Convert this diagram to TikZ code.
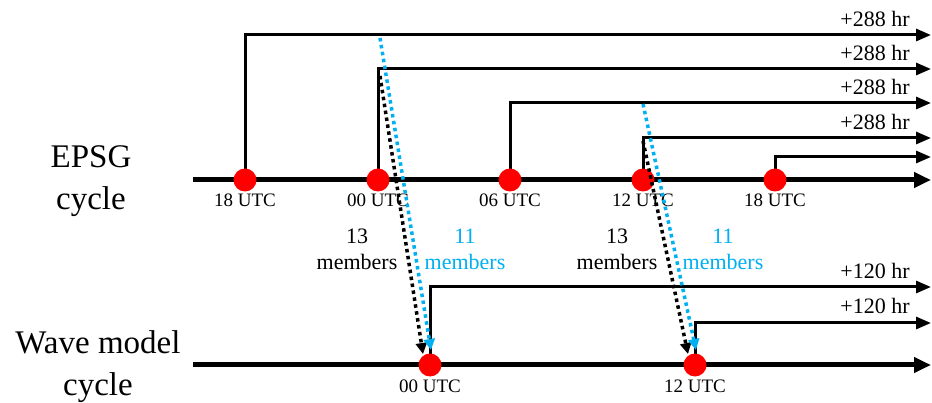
\documentclass[tikz,border=0pt]{standalone}
\usepackage{fontspec}
\setmainfont{Liberation Serif}
\usetikzlibrary{arrows.meta}
\definecolor{skyb}{RGB}{0,176,240}
\begin{document}
\begin{tikzpicture}[x=1pt,y=-1pt,
  axis/.style={line width=5pt,-{Triangle[length=17pt,width=15pt]}},
  branch/.style={line width=3pt,-{Triangle[length=15pt,width=12pt]}},
  dot/.style={circle,fill=red,minimum size=23pt,inner sep=0pt},
  utc/.style={font=\fontsize{19}{21}\selectfont,inner sep=0pt},
  hr/.style={font=\fontsize{22}{24}\selectfont,inner sep=0pt},
  mem/.style={font=\fontsize{22}{26}\selectfont,inner sep=0pt,align=center},
  cyc/.style={font=\fontsize{33}{42}\selectfont,inner sep=0pt,align=center},
  dotarrow/.style={line width=3.5pt,dash pattern=on 3.5pt off 3.5pt,-{Triangle[length=11pt,width=11pt]}},
]
\useasboundingbox (0,0) rectangle (932,403);
% EPSG axis
\coordinate (eL) at (193,180);
\coordinate (eR) at (931,180);
\coordinate (p1) at (245,180);
\coordinate (p2) at (378,180);
\coordinate (p3) at (510,180);
\coordinate (p4) at (643,180);
\coordinate (p5) at (775,180);
\coordinate (r1) at (931,35);
\coordinate (r2) at (931,69);
\coordinate (r3) at (931,103);
\coordinate (r4) at (931,138);
\coordinate (r5) at (931,157);
\draw[axis] (eL) -- (eR);
\draw[branch] (p1) |- (r1);
\draw[branch] (p2) |- (r2);
\draw[branch] (p3) |- (r3);
\draw[branch] (p4) |- (r4);
\draw[branch] (p5) |- (r5);
\node[dot] (d1) at (p1) {};
\node[dot] (d2) at (p2) {};
\node[dot] (d3) at (p3) {};
\node[dot] (d4) at (p4) {};
\node[dot] (d5) at (p5) {};
\node[utc] (u1) at (245,200) {18 UTC};
\node[utc] (u2) at (378,200) {00 UTC};
\node[utc] (u3) at (510,200) {06 UTC};
\node[utc] (u4) at (643,200) {12 UTC};
\node[utc] (u5) at (775,200) {18 UTC};
\node[hr] (h1) at (875,19) {+288 hr};
\node[hr] (h2) at (875,53) {+288 hr};
\node[hr] (h3) at (875,87) {+288 hr};
\node[hr] (h4) at (875,122) {+288 hr};
% Wave axis
\coordinate (wL) at (193,365);
\coordinate (wR) at (931,365);
\coordinate (q1) at (430,365);
\coordinate (q2) at (695,365);
\coordinate (s1) at (931,287);
\coordinate (s2) at (931,323);
\draw[axis] (wL) -- (wR);
\draw[branch] (q1) |- (s1);
\draw[branch] (q2) |- (s2);
\node[dot] (w1) at (q1) {};
\node[dot] (w2) at (q2) {};
\node[utc] (v1) at (430,386) {00 UTC};
\node[utc] (v2) at (695,386) {12 UTC};
\node[hr] (k1) at (875,271) {+120 hr};
\node[hr] (k2) at (875,306) {+120 hr};
% left labels
\node[cyc] (epsg) at (91,181) {EPSG\\cycle};
\node[cyc] (wave) at (98,367) {Wave model\\cycle};
% member labels
\node[mem] (m13a) at (357,249) {13\\members};
\node[mem,text=skyb] (m11a) at (465,249) {11\\members};
\node[mem] (m13b) at (617,249) {13\\members};
\node[mem,text=skyb] (m11b) at (723,249) {11\\members};
% dotted arrows
\coordinate (ba1) at (380,76);
\coordinate (ba2) at (423,354);
\coordinate (bb1) at (380,38);
\coordinate (bb2) at (431,350);
\coordinate (ca1) at (643,141);
\coordinate (ca2) at (688,354);
\coordinate (cb1) at (643,104);
\coordinate (cb2) at (696,350);
\draw[dotarrow,black] (ba1) -- (ba2);
\draw[dotarrow,skyb] (bb1) -- (bb2);
\draw[dotarrow,black] (ca1) -- (ca2);
\draw[dotarrow,skyb] (cb1) -- (cb2);
\end{tikzpicture}
\end{document}
